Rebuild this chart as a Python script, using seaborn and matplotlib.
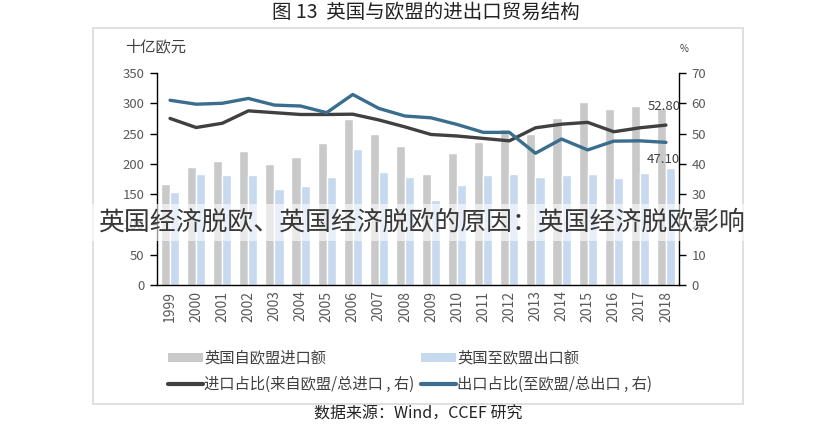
import matplotlib
matplotlib.use("Agg")
import matplotlib.pyplot as plt
import seaborn as sns
import pandas as pd
import numpy as np
from matplotlib.patches import Rectangle, Patch
from matplotlib.lines import Line2D

years = [str(y) for y in range(1999, 2019)]
imports_eu = [167, 195, 205, 221, 200, 212, 234, 274, 250, 229,
              184, 218, 236, 258, 250, 275, 302, 290, 296, 292]
exports_eu = [154, 183, 181, 181, 159, 163, 178, 224, 186, 178,
              140, 165, 182, 184, 178, 181, 183, 176, 185, 193]
import_share = [55.0, 52.0, 53.4, 57.5, 56.9, 56.3, 56.3, 56.4, 54.5, 52.2,
                49.7, 49.2, 48.4, 47.6, 51.9, 53.1, 53.7, 50.6, 51.9, 52.8]
export_share = [61.0, 59.7, 60.0, 61.6, 59.4, 59.1, 56.9, 62.9, 58.3, 55.8,
                55.2, 53.0, 50.4, 50.4, 43.5, 48.2, 44.6, 47.5, 47.6, 47.1]

bar_names = ["英国自欧盟进口额", "英国至欧盟出口额"]
line_names = ["进口占比(来自欧盟/总进口 , 右)", "出口占比(至欧盟/总出口 , 右)"]

sns.set_theme(style="white")
plt.rcParams['font.family'] = ['Noto Sans CJK SC', 'DejaVu Sans']

W, H = 840, 425
fig = plt.figure(figsize=(W / 100, H / 100), dpi=100)

def fx(px):
    return px / W

def fy(py):
    return 1 - py / H

# frame
fig.patches.append(Rectangle((fx(93), fy(404)), fx(743) - fx(93), fy(28) - fy(404),
                             transform=fig.transFigure, fill=False,
                             edgecolor="#d9d9d9", linewidth=1.2, zorder=0))

ax = fig.add_axes([fx(157), fy(285), fx(679) - fx(157), fy(73) - fy(285)])

bars_df = pd.DataFrame({
    "year": years * 2,
    "value": imports_eu + exports_eu,
    "series": [bar_names[0]] * len(years) + [bar_names[1]] * len(years),
})
bar_colors = {bar_names[0]: "#c9c9c9", bar_names[1]: "#c6d9ee"}
sns.barplot(data=bars_df, x="year", y="value", hue="series", order=years,
            hue_order=bar_names, palette=bar_colors, width=0.7, ax=ax,
            legend=False, saturation=1)

ax.set_xlim(-0.5, len(years) - 0.5)
ax.set_ylim(0, 350)
ax.set_yticks(range(0, 351, 50))
ax.set_xlabel("")
ax.set_ylabel("")
ax.tick_params(axis="x", which="major", length=0, labelrotation=90,
               labelsize=10, labelcolor="#595959", pad=4)
ax.set_xticks(np.arange(-0.5, len(years), 1.0), minor=True)
ax.tick_params(axis="x", which="minor", length=5, width=1, color="black", direction="out")
ax.tick_params(axis="y", length=5, width=1, color="black", direction="out",
               left=True, labelsize=9.5, labelcolor="#595959", pad=4)
ax.spines["top"].set_visible(False)
ax.spines["right"].set_visible(False)
for s in ["left", "bottom"]:
    ax.spines[s].set_color("black")
    ax.spines[s].set_linewidth(1)

ax2 = ax.twinx()
xpos = np.arange(len(years))
lines_df = pd.DataFrame({
    "x": np.concatenate([xpos, xpos]),
    "share": import_share + export_share,
    "series": [line_names[0]] * len(years) + [line_names[1]] * len(years),
})
line_colors = {line_names[0]: "#404040", line_names[1]: "#3a6d8e"}
sns.lineplot(data=lines_df, x="x", y="share", hue="series", hue_order=line_names,
             palette=line_colors, linewidth=2.4, ax=ax2, legend=False, sort=False)
ax2.set_ylim(0, 70)
ax2.set_yticks(range(0, 71, 10))
ax2.set_xlim(-0.5, len(years) - 0.5)
ax2.set_ylabel("")
ax2.set_xlabel("")
ax2.tick_params(axis="y", length=5, width=1, color="black", direction="out",
                right=True, labelsize=9.5, labelcolor="#595959", pad=4)
for s in ["top", "left", "bottom"]:
    ax2.spines[s].set_visible(False)
ax2.spines["right"].set_color("black")
ax2.spines["right"].set_linewidth(1)

ax2.annotate(f"{import_share[-1]:.2f}", (xpos[-1], import_share[-1]),
             xytext=(-1, 9), textcoords="offset points", ha="center", va="bottom",
             fontsize=9.5, color="#404040")
ax2.annotate(f"{export_share[-1]:.2f}", (xpos[-1], export_share[-1]),
             xytext=(-2, -8), textcoords="offset points", ha="center", va="top",
             fontsize=9.5, color="#404040")

fig.text(fx(125), fy(47), "十亿欧元", fontsize=11, color="#404040", va="center", ha="left")
fig.text(fx(684), fy(49), "%", fontsize=7, color="#404040", va="center", ha="center")

fig.text(fx(426), fy(12), "图 13  英国与欧盟的进出口贸易结构", fontsize=14,
         color="#222222", ha="center", va="center")
fig.text(fx(418), fy(414), "数据来源：Wind，CCEF 研究", fontsize=11.5,
         color="#222222", ha="center", va="center")

handles = [
    Patch(facecolor="#c9c9c9", edgecolor="none"),
    Line2D([0], [0], color="#404040", linewidth=3),
    Patch(facecolor="#c6d9ee", edgecolor="none"),
    Line2D([0], [0], color="#3a6d8e", linewidth=3),
]
labels = [bar_names[0], line_names[0], bar_names[1], line_names[1]]
fig.legend(handles, labels, ncol=2, loc="upper left",
           bbox_to_anchor=(fx(154), fy(336)), frameon=False, fontsize=11,
           handlelength=2.3, handleheight=0.6, handletextpad=0.1,
           columnspacing=0.4, labelspacing=0.6, labelcolor="#404040")

# watermark band
fig.patches.append(Rectangle((fx(90), fy(241)), fx(750) - fx(90), fy(204) - fy(241),
                             transform=fig.transFigure, facecolor="white", alpha=0.6,
                             edgecolor="none", zorder=5))
fig.text(fx(421), fy(222), "英国经济脱欧、英国经济脱欧的原因：英国经济脱欧影响",
         fontsize=18.6, fontweight="light", color="#383838", ha="center", va="center",
         zorder=6)

fig.savefig("out.png", dpi=100)
